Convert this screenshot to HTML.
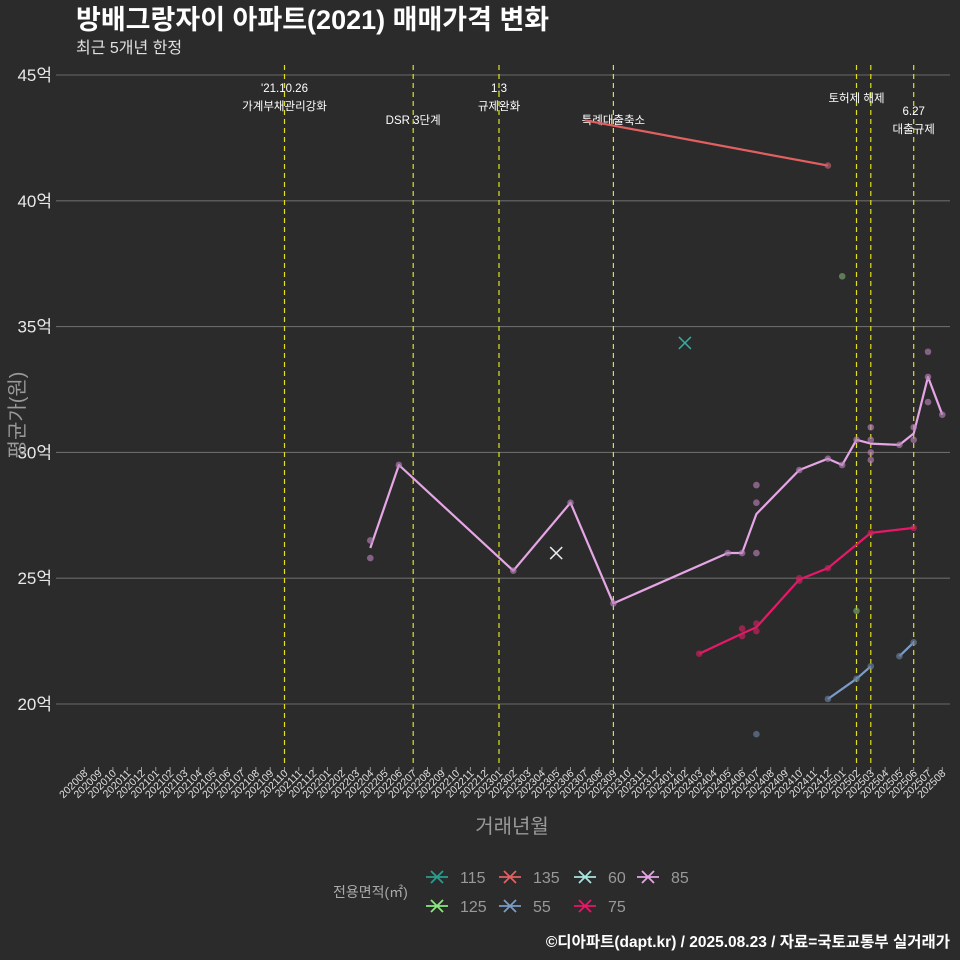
<!DOCTYPE html>
<html><head><meta charset="utf-8">
<style>
html,body{margin:0;padding:0;background:#2b2b2b;}
svg{display:block;font-family:"Liberation Sans","Noto Sans CJK KR",sans-serif;}
</style></head>
<body>
<svg id="chart" width="960" height="960" viewBox="0 0 960 960">
<rect width="960" height="960" fill="#2b2b2b"/>
<text x="76" y="29" font-size="27" font-weight="bold" fill="#ffffff">방배그랑자이 아파트(2021) 매매가격 변화</text>
<text x="76" y="53" font-size="16" fill="#e0e0e0">최근 5개년 한정</text>
<g id="grid"></g><g id="vlines"></g><g id="series"></g><g id="xaxis"></g>
<text x="512" y="833" font-size="20" fill="#999" text-anchor="middle">거래년월</text>
<text transform="translate(24,415) rotate(-90)" font-size="20" fill="#999" text-anchor="middle">평균가(원)</text>
<g id="legend"></g>
<text x="950" y="947" font-size="15.5" font-weight="bold" fill="#ffffff" text-anchor="end">©디아파트(dapt.kr) / 2025.08.23 / 자료=국토교통부 실거래가</text>
</svg>
<script>
const months = [];
for (let y=2020,m=8; y<2025||(y===2025&&m<=8); m++){ if(m>12){m=1;y++;} if(y===2025&&m>8)break; months.push(''+y+String(m).padStart(2,'0')); }
const yTicks = [20,25,30,35,40,45];
const vlineMonths = ['202110','202207','202301','202309','202502','202503','202506'];
const seriesNames = ['115','135','60','85','125','55','75'];
const seriesColors = ['#2a9d8f','#e46060','#a8e4e0','#e6a6e6','#8be880','#7b9cc6','#e8176a'];
const line85m = ['202204','202206','202302','202306','202309','202405','202406','202407','202410','202412','202501','202502','202503','202505','202506','202507','202508'];
const line85v = [26.2,29.5,25.3,28.0,24.0,26.0,26.0,27.55,29.3,29.75,29.5,30.5,30.35,30.3,30.75,33.0,31.5];
const pts85m = ['202204','202204','202206','202302','202306','202309','202405','202406','202407','202407','202407','202410','202412','202501','202502','202503','202503','202503','202503','202505','202506','202506','202507','202507','202507','202508'];
const pts85v = [26.5,25.8,29.5,25.3,28.0,24.0,26.0,26.0,28.7,28.0,26.0,29.3,29.75,29.5,30.5,31.0,30.5,30.0,29.7,30.3,31.0,30.5,34.0,33.0,32.0,31.5];
const line75m = ['202403','202406','202407','202410','202412','202503','202506'];
const line75v = [22.0,22.8,23.05,24.95,25.4,26.8,27.0];
const pts75m = ['202403','202406','202406','202407','202407','202410','202410','202412','202503','202506'];
const pts75v = [22.0,23.0,22.7,23.2,22.9,25.0,24.9,25.4,26.8,27.0];
const line55m = ['202412','202502','202503','202504','202505','202506'];
const line55v = [20.2,21.0,21.5,null,21.9,22.45];
const pts55m = ['202407','202412','202502','202503','202505','202506'];
const pts55v = [18.8,20.2,21.0,21.5,21.9,22.45];
const line135m = ['202307','202412'];
const line135v = [43.2,41.4];
const pts135m = ['202412'];
const pts135v = [41.4];
const pts125m = ['202501','202502'];
const pts125v = [37.0,23.7];
const x115m = ['202402']; const x115v = [34.35];
const x60m = ['202305']; const x60v = [26.0];

const NS='http://www.w3.org/2000/svg';
const X0=84.3, DX=14.3;
function xs(m){return X0+months.indexOf(m)*DX;}
function ys(v){return 704-(v-20)*25.16;}
function mk(tag,attrs,parent){const e=document.createElementNS(NS,tag);for(const k in attrs)e.setAttribute(k,attrs[k]);parent.appendChild(e);return e;}
const grid=document.getElementById('grid');
yTicks.forEach(t=>{
  const l=mk('line',{x1:56,x2:950,y1:ys(t),y2:ys(t),stroke:'#6a6a6a','stroke-width':1.1},grid);
  
  
  const tx=mk('text',{x:52,y:ys(t)+6,'font-size':17,fill:'#e8e8e8','text-anchor':'end'},grid);
  tx.textContent=t+'억';
  
  
});
const xa=document.getElementById('xaxis');
months.forEach(m=>{
  const x=xs(m);
  const t=mk('line',{x1:x,x2:x,y1:767,y2:771,stroke:'#999','stroke-width':1},xa);
  
  
  const tx=mk('text',{transform:`translate(${x+4},774) rotate(-45)`,'font-size':10.5,fill:'#e0e0e0','text-anchor':'end'},xa);
  tx.textContent=m;
  
  
});
const vl=document.getElementById('vlines');
vlineMonths.forEach(m=>{
  const l=mk('line',{x1:xs(m),x2:xs(m),y1:65,y2:767,stroke:'#e0e020','stroke-width':1.2,'stroke-dasharray':'5,4'},vl);
  
  
});
const anns=[['202110',92,"'21.10.26"],['202110',110,'가계부채관리강화'],['202207',124,'DSR 3단계'],['202301',92,'1.3'],['202301',110,'규제완화'],['202309',124,'특례대출축소'],['202502',102,'토허제 해제'],['202506',115,'6.27'],['202506',133,'대출규제']];
anns.forEach(a=>{
  const t=mk('text',{x:xs(a[0]),y:a[1],'font-size':11.5,fill:'#ffffff','text-anchor':'middle'},vl);
  t.textContent=a[2];
  
  
});
const sg=document.getElementById('series');
function drawLine(ms,vs,color,name){
  let seg=[];const segs=[];
  ms.forEach((m,i)=>{if(vs[i]==null){if(seg.length)segs.push(seg);seg=[];}else seg.push(xs(m).toFixed(1)+','+ys(vs[i]).toFixed(1));});
  if(seg.length)segs.push(seg);
  segs.forEach(s=>{
    const p=mk('polyline',{points:s.join(' '),fill:'none',stroke:color,'stroke-width':2.2,'stroke-linejoin':'round'},sg);
    
    
  });
}
function drawPts(ms,vs,color,name){
  ms.forEach((m,i)=>{
    const c=mk('circle',{cx:xs(m),cy:ys(vs[i]),r:3.3,fill:color,'fill-opacity':0.65},sg);
    
    
  });
}
function drawX(ms,vs,color,name){
  ms.forEach((m,i)=>{
    const x=xs(m),y=ys(vs[i]);
    const p=mk('path',{d:`M${x-6},${y-6}L${x+6},${y+6}M${x-6},${y+6}L${x+6},${y-6}`,stroke:color,'stroke-width':1.5},sg);
    
    
  });
}
drawLine(line135m,line135v,seriesColors[1],'135');
drawPts(pts135m,pts135v,'#c06070','135');
drawLine(line85m,line85v,seriesColors[3],'85');
drawPts(pts85m,pts85v,'#b580b5','85');
drawLine(line75m,line75v,seriesColors[6],'75');
drawPts(pts75m,pts75v,'#d0205e','75');
drawLine(line55m,line55v,seriesColors[5],'55');
drawPts(pts55m,pts55v,'#6880a0','55');
drawPts(pts125m,pts125v,'#7aa870','125');
drawX(x115m,x115v,'#3aa8a0','115');
drawX(x60m,x60v,'#e8e8f0','60');
const lg=document.getElementById('legend');
const lt=mk('text',{x:333,y:897,'font-size':14,fill:'#aaa'},lg);
lt.textContent='전용면적(㎡)';


const lpos=[[437,877],[510,877],[585,877],[648,877],[437,906],[510,906],[585,906]];
seriesNames.forEach((n,i)=>{
  const [cx,cy]=lpos[i];const c=seriesColors[i];
  const g=mk('g',{},lg);
  
  
  mk('path',{d:`M${cx-11},${cy}L${cx+11},${cy}M${cx-6},${cy-6}L${cx+6},${cy+6}M${cx-6},${cy+6}L${cx+6},${cy-6}`,stroke:c,'stroke-width':1.8},g);
  const t=mk('text',{x:cx+23,y:cy+6,'font-size':16,fill:'#999'},g);
  t.textContent=n;
});
</script>
</body></html>
